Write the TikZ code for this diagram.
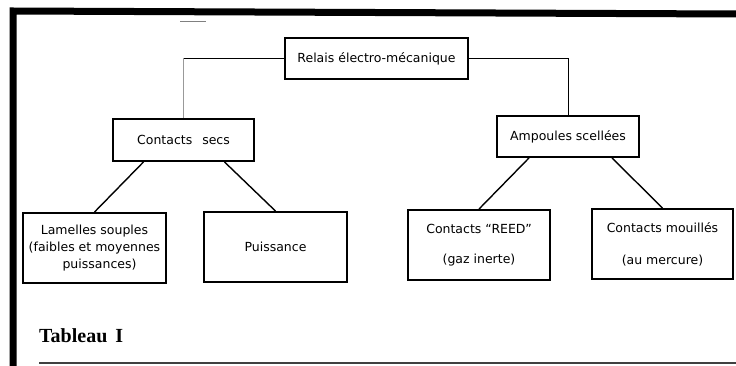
\documentclass[tikz,border=0pt]{standalone}
\usepackage{fontspec}
\setmainfont{DejaVu Sans}
\newfontfamily\capfont{Liberation Serif}
\begin{document}
\begin{tikzpicture}[x=1pt,y=-1pt,
  box/.style={draw=black,line width=1.9pt,rectangle,inner sep=1pt,align=center,
    font=\fontsize{12.5}{15}\selectfont},
  link/.style={draw=black,line width=1.4pt},
  lightlink/.style={draw=black!40,line width=1.1pt}]
\useasboundingbox (0,0) rectangle (736,366);
% frame
\draw[line width=7pt,miter limit=10] (13,366) -- (13,11) -- (736,14);
\draw[line width=1.4pt,black!75] (39,363) -- (736,363);
\draw[line width=0.8pt,black!50] (180,21) -- (206,21);
% boxes
\node[box,minimum width=183pt,minimum height=41pt] (relais) at (376.5,58.5) {Relais électro-mécanique};
\node[box,minimum width=141pt,minimum height=42pt] (secs) at (183.5,140) {Contacts\hspace{6pt} secs};
\node[box,minimum width=142pt,minimum height=41pt] (amp) at (568,136.5) {Ampoules scellées};
\node[box,minimum width=143pt,minimum height=70pt,font=\fontsize{12.5}{17}\selectfont] (lam) at (94.5,248) {Lamelles souples\\(faibles et moyennes\\\hspace{10pt}puissances)};
\node[box,minimum width=143pt,minimum height=70pt] (puis) at (275.5,247) {Puissance};
\node[box,minimum width=142pt,minimum height=70pt,font=\fontsize{12.5}{30}\selectfont] (reed) at (479,245) {Contacts “REED”\\(gaz inerte)};
\node[box,minimum width=141pt,minimum height=70pt,font=\fontsize{12.5}{32}\selectfont] (mou) at (662.5,244) {Contacts mouillés\\(au mercure)};
\node[anchor=base west,inner sep=0pt,font=\capfont\bfseries\fontsize{20}{24}\selectfont] (tab) at (39,342) {Tableau\hspace{8pt}I};
% connectors
\coordinate (jl) at (relais.west -| secs.north);
\coordinate (jr) at (relais.east -| amp.north);
\draw[link] (relais.west) -- (jl);
\draw[lightlink] (jl) -- (secs.north);
\draw[link] (relais.east) -- (jr);
\draw[link,line width=1pt] (jr) -- (amp.north);
\draw[link] ([xshift=-40pt]secs.south) -- (lam.north);
\draw[link] ([xshift=41pt]secs.south) -- (puis.north);
\draw[link] ([xshift=-39pt]amp.south) -- (reed.north);
\draw[link] ([xshift=44pt]amp.south) -- (mou.north);
\end{tikzpicture}
\end{document}
